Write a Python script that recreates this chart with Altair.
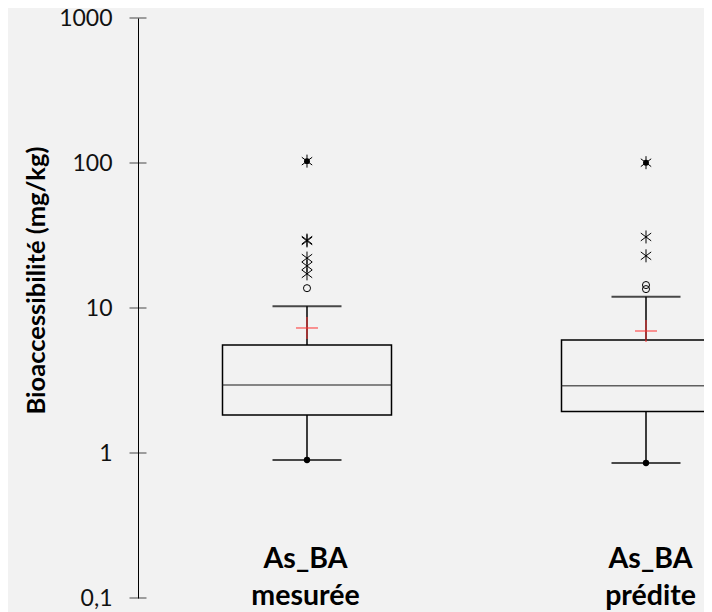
import altair as alt
import pandas as pd

# ---- data ----
categories = ["As_BA mesurée", "As_BA prédite"]
q1 = [1.83, 1.93]
median = [2.94, 2.91]
q3 = [5.56, 6.02]
whisker_low = [0.895, 0.853]
whisker_high = [10.3, 11.97]
means = [7.28, 6.94]
maxima = [103.0, 100.5]
extreme_mesuree = [103.0, 29.0, 29.4, 22.1, 19.5, 17.2]
extreme_predite = [100.5, 30.9, 22.9]
mild_mesuree = [13.7]
mild_predite = [14.4, 13.5]
y_ticks = [0.1, 1, 10, 100, 1000]

summary = pd.DataFrame({
    "cat": categories, "q1": q1, "median": median, "q3": q3,
    "wlo": whisker_low, "whi": whisker_high, "mean": means, "max": maxima,
})
extreme = pd.DataFrame({
    "cat": [categories[0]] * len(extreme_mesuree) + [categories[1]] * len(extreme_predite),
    "v": extreme_mesuree + extreme_predite,
})
mild = pd.DataFrame({
    "cat": [categories[0]] * len(mild_mesuree) + [categories[1]] * len(mild_predite),
    "v": mild_mesuree + mild_predite,
})
ticks_df = pd.DataFrame({"t": y_ticks})

FONT = "Lato"
BLACK = "#000000"

x_scale = alt.Scale(type="point", domain=categories, padding=0.3348, align=0.7445)
x_axis = alt.Axis(
    title=None, domain=False, ticks=False, tickSize=0, grid=False,
    labelExpr="split(datum.label, ' ')", labelAngle=0,
    labelFont=FONT, labelFontWeight="bold", labelFontSize=28.5,
    labelLineHeight=37, labelPadding=-54, labelColor=BLACK,
    labelBaseline="top",
    labelOffset=alt.condition("datum.value == '%s'" % categories[1], alt.value(4), alt.value(-2)),
)
y_scale = alt.Scale(type="log", domain=[0.1, 1000], nice=False)
y_axis = alt.Axis(
    values=y_ticks, labelExpr="replace(toString(datum.value), '.', ',')",
    ticks=False, tickSize=0, grid=False, labelPadding=26,
    labelFont=FONT, labelFontSize=23, labelColor="#111111",
    domainColor=BLACK, domainWidth=1,
    title="Bioaccessibilité (mg/kg)", titleFont=FONT, titleFontSize=25.5,
    titleFontWeight="bold", titleColor=BLACK, titlePadding=9, titleY=262,
)

X = alt.X("cat:N", scale=x_scale, axis=x_axis)


def Y(field):
    return alt.Y(field, scale=y_scale, axis=y_axis, title="Bioaccessibilité (mg/kg)")


base = alt.Chart(summary)

box = base.mark_bar(filled=False, color=BLACK, strokeWidth=1.5, size=169).encode(
    x=X, y=Y("q1:Q"), y2="q3:Q")
med = base.mark_tick(orient="horizontal", color="#222222", size=169, thickness=1.5).encode(
    x=X, y=Y("median:Q"))
wl = base.mark_rule(color=BLACK, strokeWidth=1.5).encode(
    x=X, y=Y("wlo:Q"), y2="q1:Q")
wh = base.mark_rule(color=BLACK, strokeWidth=1.5).encode(
    x=X, y=Y("q3:Q"), y2="whi:Q")
cap_lo = base.mark_tick(orient="horizontal", color=BLACK, size=69, thickness=2).encode(
    x=X, y=Y("wlo:Q"))
cap_hi = base.mark_tick(orient="horizontal", color=BLACK, size=69, thickness=2).encode(
    x=X, y=Y("whi:Q"))
min_dot = base.mark_point(shape="circle", filled=True, color=BLACK, size=40, opacity=1).encode(
    x=X, y=Y("wlo:Q"))
max_dot = base.mark_point(shape="circle", filled=True, color=BLACK, size=35, opacity=1).encode(
    x=X, y=Y("max:Q"))
mean_pt = base.mark_point(shape="M-1,0H1M0,-1V1", filled=False, color="#ff3030",
                          strokeWidth=1, size=484, opacity=1).encode(
    x=X, y=Y("mean:Q"))

ext = alt.Chart(extreme).mark_point(
    shape="M0,-1V1M-0.8,-0.6L0.8,0.6M-0.8,0.6L0.8,-0.6",
    filled=False, color=BLACK, strokeWidth=1, size=169, opacity=1).encode(
    x=X, y=Y("v:Q"))
mld = alt.Chart(mild).mark_point(shape="circle", filled=False, color=BLACK,
                                 strokeWidth=1, size=50, opacity=1).encode(
    x=X, y=Y("v:Q"))

inner_ticks = alt.Chart(ticks_df).mark_tick(orient="horizontal", color=BLACK, size=17, thickness=1).encode(
    x=alt.value(0), y=Y("t:Q"))

chart = alt.layer(
    box, med, wl, wh, cap_lo, cap_hi, min_dot, max_dot, mean_pt, ext, mld, inner_ticks
).properties(
    width=566, height=580,
    autosize=alt.AutoSizeParams(type="none"),
    padding={"left": 130, "top": 10, "right": 0, "bottom": 16},
    background="#f2f2f2",
).configure_view(stroke=None)

chart.save("out.html", embed_options={"renderer": "svg", "actions": False})
